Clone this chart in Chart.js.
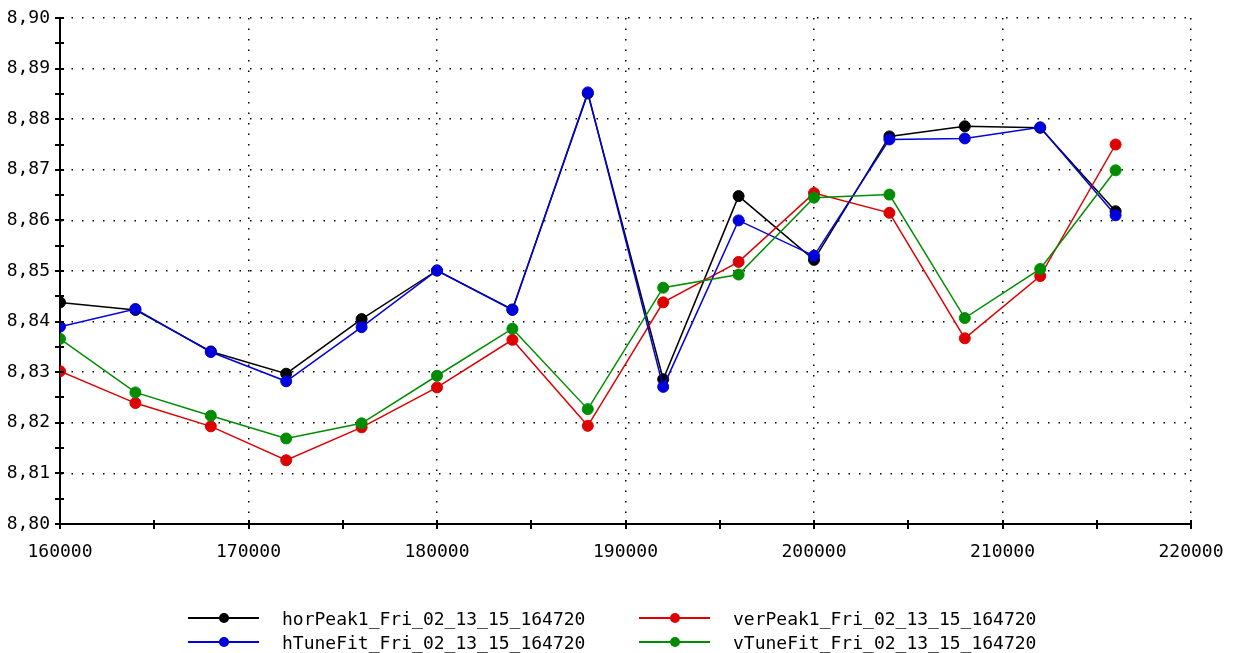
<!DOCTYPE html>
<html>
<head>
<meta charset="utf-8">
<title>Tune scan</title>
<script src="https://cdn.jsdelivr.net/npm/chart.js@4.4.1/dist/chart.umd.min.js"></script>
<style>
    html, body {
        margin: 0;
        padding: 0;
        background: #fff;
        overflow: hidden;
    }
    #wrap {
        position: relative;
        width: 1233px;
        height: 653px;
    }
    #legend {
        position: absolute;
        left: 188px;
        top: 606px;
        display: grid;
        grid-template-columns: 451px auto;
        grid-auto-rows: 24px;
        font-family: "DejaVu Sans Mono", monospace;
        font-size: 18px;
        color: #000;
    }
    .item {
        display: flex;
        align-items: center;
        white-space: nowrap;
    }
    .sym {
        position: relative;
        width: 71px;
        height: 2px;
        margin-right: 23px;
    }
    .sym i {
        position: absolute;
        left: 31px;
        top: -4px;
        width: 10px;
        height: 10px;
        border-radius: 50%;
    }
</style>
</head>
<body>
<div id="wrap">
    <canvas id="tuneChart" width="1233" height="653"></canvas>
    <div id="legend"></div>
</div>
<script>
// scan positions and measured tunes
const scanX = [160000, 164000, 168000, 172000, 176000, 180000, 184000, 188000,
    192000, 196000, 200000, 204000, 208000, 212000, 216000];

const horPeak1 = [8.8438, 8.8423, 8.8341, 8.8297, 8.8405, 8.8501, 8.8424, 8.8851,
    8.8286, 8.8648, 8.8522, 8.8766, 8.8786, 8.8783, 8.8618];
const verPeak1 = [8.8302, 8.8239, 8.8193, 8.8126, 8.8191, 8.8270, 8.8364, 8.8194,
    8.8438, 8.8518, 8.8654, 8.8615, 8.8367, 8.8490, 8.8750];
const hTuneFit = [8.8390, 8.8425, 8.8340, 8.8282, 8.8389, 8.8501, 8.8423, 8.8853,
    8.8271, 8.8600, 8.8530, 8.8760, 8.8762, 8.8784, 8.8610];
const vTuneFit = [8.8366, 8.8260, 8.8214, 8.8169, 8.8199, 8.8293, 8.8386, 8.8227,
    8.8467, 8.8493, 8.8645, 8.8651, 8.8407, 8.8504, 8.8699];

const seriesNames = ['horPeak1_Fri_02_13_15_164720', 'verPeak1_Fri_02_13_15_164720',
    'hTuneFit_Fri_02_13_15_164720', 'vTuneFit_Fri_02_13_15_164720'];
const seriesValues = [horPeak1, verPeak1, hTuneFit, vTuneFit];
const seriesColors = ['#000000', '#dd0000', '#0000dd', '#008c00'];
// black underneath, green on top
const seriesOrder = [3, 2, 1, 0];

const FONT = 'DejaVu Sans Mono';

function isMajorX(v) {
    return Math.round(v) % 10000 === 0;
}
function isMajorY(v) {
    return Math.round(v * 200) % 2 === 0;
}

const datasets = seriesNames.map((name, i) => ({
    label: name,
    data: scanX.map((x, j) => ({ x: x, y: seriesValues[i][j] })),
    borderColor: seriesColors[i],
    backgroundColor: seriesColors[i],
    borderWidth: 1.5,
    pointRadius: 5.5,
    pointBorderWidth: 1,
    pointHoverRadius: 5.5,
    tension: 0,
    order: seriesOrder[i]
}));

// small tick marks that cross both axis lines
const axisTicks = {
    id: 'axisTicks',
    afterDraw(chart) {
        const { ctx, scales: { x, y } } = chart;
        ctx.save();
        ctx.strokeStyle = '#000';
        ctx.lineWidth = 2;
        ctx.beginPath();
        x.ticks.forEach(t => {
            const px = Math.round(x.getPixelForValue(t.value));
            ctx.moveTo(px, y.bottom - 4);
            ctx.lineTo(px, y.bottom + 5);
        });
        y.ticks.forEach(t => {
            const py = Math.round(y.getPixelForValue(t.value));
            ctx.moveTo(x.left - 5, py);
            ctx.lineTo(x.left + 4, py);
        });
        ctx.stroke();
        ctx.restore();
    }
};

const tuneChart = new Chart('tuneChart', {
    type: 'line',
    data: { datasets: datasets },
    options: {
        responsive: false,
        animation: false,
        layout: {
            padding: { top: 18, right: 42, left: 0, bottom: 0 }
        },
        plugins: {
            legend: { display: false },
            tooltip: { enabled: false }
        },
        scales: {
            x: {
                type: 'linear',
                min: 160000,
                max: 220000,
                afterFit: (scale) => {
                    scale.height = 129;
                    // the layout padding already leaves room for the end labels
                    scale.paddingLeft = 0;
                    scale.paddingRight = 0;
                },
                ticks: {
                    stepSize: 5000,
                    autoSkip: false,
                    maxRotation: 0,
                    padding: 18,
                    color: '#000',
                    font: { family: FONT, size: 18 },
                    callback: (v) => isMajorX(v) ? String(v) : ''
                },
                grid: {
                    drawTicks: false,
                    lineWidth: 1.5,
                    color: (ctx) => (ctx.tick && isMajorX(ctx.tick.value)) ? '#000' : 'rgba(0,0,0,0)'
                },
                border: {
                    color: '#000',
                    width: 2,
                    dash: [1.5, 9]
                }
            },
            y: {
                type: 'linear',
                min: 8.80,
                max: 8.90,
                afterFit: (scale) => {
                    scale.width = 60;
                    scale.paddingTop = 0;
                    scale.paddingBottom = 0;
                },
                ticks: {
                    stepSize: 0.005,
                    autoSkip: false,
                    padding: 10,
                    color: '#000',
                    font: { family: FONT, size: 18 },
                    callback: (v) => isMajorY(v) ? Number(v).toFixed(2).replace('.', ',') : ''
                },
                grid: {
                    drawTicks: false,
                    lineWidth: 1.5,
                    color: (ctx) => (ctx.tick && isMajorY(ctx.tick.value)) ? '#000' : 'rgba(0,0,0,0)'
                },
                border: {
                    color: '#000',
                    width: 2,
                    dash: [1.5, 9]
                }
            }
        }
    },
    plugins: [axisTicks]
});

// two-column legend under the plot
const legendBox = document.getElementById('legend');
tuneChart.data.datasets.forEach((ds) => {
    const item = document.createElement('div');
    item.className = 'item';
    const sym = document.createElement('span');
    sym.className = 'sym';
    sym.style.background = ds.borderColor;
    const dot = document.createElement('i');
    dot.style.background = ds.borderColor;
    sym.appendChild(dot);
    const txt = document.createElement('span');
    txt.textContent = ds.label;
    item.appendChild(sym);
    item.appendChild(txt);
    legendBox.appendChild(item);
});
</script>
</body>
</html>
